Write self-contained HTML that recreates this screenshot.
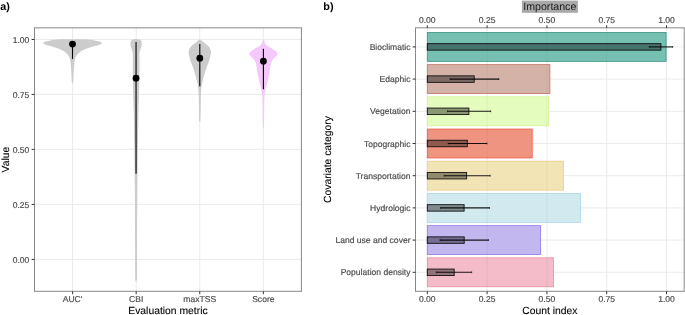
<!DOCTYPE html><html><head><meta charset="utf-8"><style>html,body{margin:0;padding:0;background:#fff;width:685px;height:315px;overflow:hidden}svg{display:block;will-change:transform}text{font-family:"Liberation Sans",sans-serif;text-rendering:geometricPrecision}.tk{fill:#4d4d4d;stroke:#4d4d4d;stroke-width:0.18px}.tt{fill:#000;stroke:#000;stroke-width:0.1px}</style></head><body>
<svg width="685" height="315" viewBox="0 0 685 315">
<rect width="685" height="315" fill="#fff"/>
<line x1="34.5" y1="39.5" x2="301.4" y2="39.5" stroke="#ebebeb" stroke-width="1"/>
<line x1="34.5" y1="94.45" x2="301.4" y2="94.45" stroke="#ebebeb" stroke-width="1"/>
<line x1="34.5" y1="149.4" x2="301.4" y2="149.4" stroke="#ebebeb" stroke-width="1"/>
<line x1="34.5" y1="204.4" x2="301.4" y2="204.4" stroke="#ebebeb" stroke-width="1"/>
<line x1="34.5" y1="259.4" x2="301.4" y2="259.4" stroke="#ebebeb" stroke-width="1"/>
<line x1="72.6" y1="27.85" x2="72.6" y2="291.3" stroke="#ebebeb" stroke-width="1"/>
<line x1="136.2" y1="27.85" x2="136.2" y2="291.3" stroke="#ebebeb" stroke-width="1"/>
<line x1="199.75" y1="27.85" x2="199.75" y2="291.3" stroke="#ebebeb" stroke-width="1"/>
<line x1="263.35" y1="27.85" x2="263.35" y2="291.3" stroke="#ebebeb" stroke-width="1"/>
<path d="M72.50,39.20 C74.50,39.21 81.67,39.17 84.50,39.25 C87.33,39.33 87.83,39.51 89.50,39.70 C91.17,39.89 93.00,40.15 94.50,40.40 C96.00,40.65 97.43,40.92 98.50,41.20 C99.57,41.48 100.35,41.80 100.90,42.10 C101.45,42.40 101.80,42.70 101.80,43.00 C101.80,43.30 101.45,43.57 100.90,43.90 C100.35,44.23 99.93,44.52 98.50,45.00 C97.07,45.48 94.38,46.17 92.30,46.80 C90.22,47.43 87.88,48.07 86.00,48.80 C84.12,49.53 82.37,50.32 81.00,51.20 C79.63,52.08 78.60,53.30 77.80,54.10 C77.00,54.90 76.63,55.27 76.20,56.00 C75.77,56.73 75.50,57.38 75.20,58.50 C74.90,59.62 74.63,60.78 74.40,62.70 C74.17,64.62 73.95,67.78 73.80,70.00 C73.65,72.22 73.60,74.00 73.50,76.00 C73.40,78.00 73.32,80.75 73.20,82.00 C73.08,83.25 72.92,83.23 72.80,83.50 C72.68,83.77 72.55,83.58 72.50,83.60 L72.50,83.60 C72.45,83.58 72.32,83.77 72.20,83.50 C72.08,83.23 71.92,83.25 71.80,82.00 C71.68,80.75 71.60,78.00 71.50,76.00 C71.40,74.00 71.35,72.22 71.20,70.00 C71.05,67.78 70.83,64.62 70.60,62.70 C70.37,60.78 70.10,59.62 69.80,58.50 C69.50,57.38 69.23,56.73 68.80,56.00 C68.37,55.27 68.00,54.90 67.20,54.10 C66.40,53.30 65.37,52.08 64.00,51.20 C62.63,50.32 60.88,49.53 59.00,48.80 C57.12,48.07 54.78,47.43 52.70,46.80 C50.62,46.17 47.93,45.48 46.50,45.00 C45.07,44.52 44.65,44.23 44.10,43.90 C43.55,43.57 43.20,43.30 43.20,43.00 C43.20,42.70 43.55,42.40 44.10,42.10 C44.65,41.80 45.43,41.48 46.50,41.20 C47.57,40.92 49.00,40.65 50.50,40.40 C52.00,40.15 53.83,39.89 55.50,39.70 C57.17,39.51 57.67,39.33 60.50,39.25 C63.33,39.17 70.50,39.21 72.50,39.20 Z" fill="#cccccc"/>
<path d="M136.10,38.90 C136.52,38.95 137.88,39.02 138.60,39.20 C139.32,39.38 139.93,39.67 140.40,40.00 C140.87,40.33 141.18,40.70 141.40,41.20 C141.62,41.70 141.67,42.28 141.70,43.00 C141.73,43.72 141.70,44.75 141.60,45.50 C141.50,46.25 141.30,46.87 141.10,47.50 C140.90,48.13 140.62,48.55 140.40,49.30 C140.18,50.05 139.97,51.05 139.80,52.00 C139.63,52.95 139.47,52.67 139.40,55.00 C139.33,57.33 139.42,61.83 139.40,66.00 C139.38,70.17 139.37,75.17 139.30,80.00 C139.23,84.83 139.13,90.00 139.00,95.00 C138.87,100.00 138.67,102.50 138.50,110.00 C138.33,117.50 138.17,129.17 138.00,140.00 C137.83,150.83 137.62,164.17 137.50,175.00 C137.38,185.83 137.32,192.50 137.25,205.00 C137.18,217.50 137.10,237.58 137.05,250.00 C137.00,262.42 137.11,274.57 136.95,279.50 C136.79,284.43 136.24,279.58 136.10,279.60 L136.10,279.60 C135.96,279.58 135.41,284.43 135.25,279.50 C135.09,274.57 135.20,262.42 135.15,250.00 C135.10,237.58 135.02,217.50 134.95,205.00 C134.88,192.50 134.82,185.83 134.70,175.00 C134.57,164.17 134.37,150.83 134.20,140.00 C134.03,129.17 133.87,117.50 133.70,110.00 C133.53,102.50 133.33,100.00 133.20,95.00 C133.07,90.00 132.97,84.83 132.90,80.00 C132.83,75.17 132.82,70.17 132.80,66.00 C132.78,61.83 132.87,57.33 132.80,55.00 C132.73,52.67 132.57,52.95 132.40,52.00 C132.23,51.05 132.02,50.05 131.80,49.30 C131.58,48.55 131.30,48.13 131.10,47.50 C130.90,46.87 130.70,46.25 130.60,45.50 C130.50,44.75 130.47,43.72 130.50,43.00 C130.53,42.28 130.58,41.70 130.80,41.20 C131.02,40.70 131.33,40.33 131.80,40.00 C132.27,39.67 132.88,39.38 133.60,39.20 C134.32,39.02 135.68,38.95 136.10,38.90 Z" fill="#cccccc"/>
<path d="M199.80,39.20 C200.07,39.42 200.68,39.92 201.40,40.50 C202.12,41.08 203.05,41.87 204.10,42.70 C205.15,43.53 206.72,44.55 207.70,45.50 C208.68,46.45 209.43,47.28 210.00,48.40 C210.57,49.52 211.05,50.93 211.10,52.20 C211.15,53.47 210.58,54.70 210.30,56.00 C210.02,57.30 209.83,58.57 209.40,60.00 C208.97,61.43 208.17,63.33 207.70,64.60 C207.23,65.87 207.20,65.83 206.60,67.60 C206.00,69.37 204.83,72.65 204.10,75.20 C203.37,77.75 202.67,80.67 202.20,82.90 C201.73,85.13 201.51,86.58 201.30,88.60 C201.09,90.62 201.04,92.43 200.95,95.00 C200.86,97.57 200.81,100.67 200.75,104.00 C200.69,107.33 200.67,112.17 200.60,115.00 C200.53,117.83 200.48,119.97 200.35,121.00 C200.22,122.03 199.89,121.17 199.80,121.20 L199.80,121.20 C199.71,121.17 199.38,122.03 199.25,121.00 C199.12,119.97 199.07,117.83 199.00,115.00 C198.93,112.17 198.91,107.33 198.85,104.00 C198.79,100.67 198.74,97.57 198.65,95.00 C198.56,92.43 198.51,90.62 198.30,88.60 C198.09,86.58 197.87,85.13 197.40,82.90 C196.93,80.67 196.23,77.75 195.50,75.20 C194.77,72.65 193.60,69.37 193.00,67.60 C192.40,65.83 192.37,65.87 191.90,64.60 C191.43,63.33 190.63,61.43 190.20,60.00 C189.77,58.57 189.58,57.30 189.30,56.00 C189.02,54.70 188.45,53.47 188.50,52.20 C188.55,50.93 189.03,49.52 189.60,48.40 C190.17,47.28 190.92,46.45 191.90,45.50 C192.88,44.55 194.45,43.53 195.50,42.70 C196.55,41.87 197.48,41.08 198.20,40.50 C198.92,39.92 199.53,39.42 199.80,39.20 Z" fill="#cccccc"/>
<path d="M263.40,39.20 C263.55,39.50 263.98,40.23 264.30,41.00 C264.62,41.77 264.87,43.05 265.30,43.80 C265.73,44.55 266.25,44.95 266.90,45.50 C267.55,46.05 268.33,46.55 269.20,47.10 C270.07,47.65 271.17,48.25 272.10,48.80 C273.03,49.35 274.02,49.83 274.80,50.40 C275.58,50.97 276.33,51.63 276.80,52.20 C277.27,52.77 277.60,53.25 277.60,53.80 C277.60,54.35 277.18,54.95 276.80,55.50 C276.42,56.05 276.05,56.28 275.30,57.10 C274.55,57.92 272.98,59.48 272.30,60.40 C271.62,61.32 271.48,61.85 271.20,62.60 C270.92,63.35 270.83,63.60 270.60,64.90 C270.37,66.20 270.07,68.73 269.80,70.40 C269.53,72.07 269.30,73.38 269.00,74.90 C268.70,76.42 268.33,78.02 268.00,79.50 C267.67,80.98 267.33,82.47 267.00,83.80 C266.67,85.13 266.28,86.40 266.00,87.50 C265.72,88.60 265.54,89.17 265.30,90.40 C265.06,91.63 264.72,92.47 264.55,94.90 C264.37,97.33 264.32,100.82 264.25,105.00 C264.18,109.18 264.17,116.20 264.10,120.00 C264.03,123.80 263.97,126.47 263.85,127.80 C263.73,129.13 263.47,127.97 263.40,128.00 L263.40,128.00 C263.32,127.97 263.07,129.13 262.95,127.80 C262.83,126.47 262.77,123.80 262.70,120.00 C262.63,116.20 262.62,109.18 262.55,105.00 C262.47,100.82 262.43,97.33 262.25,94.90 C262.07,92.47 261.74,91.63 261.50,90.40 C261.26,89.17 261.08,88.60 260.80,87.50 C260.52,86.40 260.13,85.13 259.80,83.80 C259.47,82.47 259.13,80.98 258.80,79.50 C258.47,78.02 258.10,76.42 257.80,74.90 C257.50,73.38 257.27,72.07 257.00,70.40 C256.73,68.73 256.43,66.20 256.20,64.90 C255.97,63.60 255.88,63.35 255.60,62.60 C255.32,61.85 255.18,61.32 254.50,60.40 C253.82,59.48 252.25,57.92 251.50,57.10 C250.75,56.28 250.38,56.05 250.00,55.50 C249.62,54.95 249.20,54.35 249.20,53.80 C249.20,53.25 249.53,52.77 250.00,52.20 C250.47,51.63 251.22,50.97 252.00,50.40 C252.78,49.83 253.77,49.35 254.70,48.80 C255.63,48.25 256.73,47.65 257.60,47.10 C258.47,46.55 259.25,46.05 259.90,45.50 C260.55,44.95 261.07,44.55 261.50,43.80 C261.93,43.05 262.18,41.77 262.50,41.00 C262.82,40.23 263.25,39.50 263.40,39.20 Z" fill="#f4c8fb"/>
<line x1="72.5" y1="41.0" x2="72.5" y2="58.9" stroke="#000" stroke-width="1.1"/>
<circle cx="72.5" cy="44.1" r="3.4" fill="#000"/>
<line x1="136.05" y1="41.9" x2="136.05" y2="173.8" stroke="#000" stroke-width="1.1"/>
<circle cx="136.05" cy="78.2" r="3.4" fill="#000"/>
<line x1="199.8" y1="44.1" x2="199.8" y2="86.3" stroke="#000" stroke-width="1.1"/>
<circle cx="199.8" cy="58.2" r="3.4" fill="#000"/>
<line x1="263.4" y1="48.8" x2="263.4" y2="89.3" stroke="#000" stroke-width="1.1"/>
<circle cx="263.4" cy="61.2" r="3.4" fill="#000"/>
<rect x="34.5" y="27.85" width="266.90" height="263.45" fill="none" stroke="#878787" stroke-width="1.0"/>
<line x1="31.6" y1="39.5" x2="34.5" y2="39.5" stroke="#333333" stroke-width="1"/>
<text x="29.3" y="42.80" class="tk" font-size="8.55" text-anchor="end">1.00</text>
<line x1="31.6" y1="94.45" x2="34.5" y2="94.45" stroke="#333333" stroke-width="1"/>
<text x="29.3" y="97.75" class="tk" font-size="8.55" text-anchor="end">0.75</text>
<line x1="31.6" y1="149.4" x2="34.5" y2="149.4" stroke="#333333" stroke-width="1"/>
<text x="29.3" y="152.70" class="tk" font-size="8.55" text-anchor="end">0.50</text>
<line x1="31.6" y1="204.4" x2="34.5" y2="204.4" stroke="#333333" stroke-width="1"/>
<text x="29.3" y="207.70" class="tk" font-size="8.55" text-anchor="end">0.25</text>
<line x1="31.6" y1="259.4" x2="34.5" y2="259.4" stroke="#333333" stroke-width="1"/>
<text x="29.3" y="262.70" class="tk" font-size="8.55" text-anchor="end">0.00</text>
<line x1="72.6" y1="291.3" x2="72.6" y2="294.2" stroke="#333333" stroke-width="1"/>
<text x="72.6" y="302.1" class="tk" font-size="8.55" text-anchor="middle">AUC'</text>
<line x1="136.2" y1="291.3" x2="136.2" y2="294.2" stroke="#333333" stroke-width="1"/>
<text x="136.2" y="302.1" class="tk" font-size="8.55" text-anchor="middle">CBI</text>
<line x1="199.75" y1="291.3" x2="199.75" y2="294.2" stroke="#333333" stroke-width="1"/>
<text x="199.75" y="302.1" class="tk" font-size="8.55" text-anchor="middle">maxTSS</text>
<line x1="263.35" y1="291.3" x2="263.35" y2="294.2" stroke="#333333" stroke-width="1"/>
<text x="263.35" y="302.1" class="tk" font-size="8.55" text-anchor="middle">Score</text>
<text x="167.95" y="314.0" class="tt" font-size="10.35" text-anchor="middle">Evaluation metric</text>
<text transform="translate(8.6,159.58) rotate(-90)" class="tt" font-size="10.35" text-anchor="middle">Value</text>
<text x="0.2" y="10.2" font-size="10.8" font-weight="bold" fill="#000">a)</text>
<line x1="427.30" y1="27.85" x2="427.30" y2="291.3" stroke="#ebebeb" stroke-width="1"/>
<line x1="487.10" y1="27.85" x2="487.10" y2="291.3" stroke="#ebebeb" stroke-width="1"/>
<line x1="546.90" y1="27.85" x2="546.90" y2="291.3" stroke="#ebebeb" stroke-width="1"/>
<line x1="606.70" y1="27.85" x2="606.70" y2="291.3" stroke="#ebebeb" stroke-width="1"/>
<line x1="666.50" y1="27.85" x2="666.50" y2="291.3" stroke="#ebebeb" stroke-width="1"/>
<line x1="415.5" y1="46.90" x2="684.2" y2="46.90" stroke="#ebebeb" stroke-width="1"/>
<line x1="415.5" y1="79.10" x2="684.2" y2="79.10" stroke="#ebebeb" stroke-width="1"/>
<line x1="415.5" y1="111.30" x2="684.2" y2="111.30" stroke="#ebebeb" stroke-width="1"/>
<line x1="415.5" y1="143.50" x2="684.2" y2="143.50" stroke="#ebebeb" stroke-width="1"/>
<line x1="415.5" y1="175.70" x2="684.2" y2="175.70" stroke="#ebebeb" stroke-width="1"/>
<line x1="415.5" y1="207.90" x2="684.2" y2="207.90" stroke="#ebebeb" stroke-width="1"/>
<line x1="415.5" y1="240.10" x2="684.2" y2="240.10" stroke="#ebebeb" stroke-width="1"/>
<line x1="415.5" y1="272.30" x2="684.2" y2="272.30" stroke="#ebebeb" stroke-width="1"/>
<rect x="427.3" y="32.45" width="238.80" height="28.9" fill="#76c0b2" stroke="#3a9383" stroke-width="0.8"/>
<rect x="427.3" y="64.65" width="122.60" height="28.9" fill="#d4b2a8" stroke="#bf7560" stroke-width="0.8"/>
<rect x="427.3" y="96.85" width="121.40" height="28.9" fill="#e4fcbe" stroke="#d2f48c" stroke-width="0.8"/>
<rect x="427.3" y="129.05" width="104.90" height="28.9" fill="#f09482" stroke="#ee5a40" stroke-width="0.8"/>
<rect x="427.3" y="161.25" width="136.10" height="28.9" fill="#f3e4b6" stroke="#edcc7e" stroke-width="0.8"/>
<rect x="427.3" y="193.45" width="153.30" height="28.9" fill="#d2e9f0" stroke="#a9d6ea" stroke-width="0.8"/>
<rect x="427.3" y="225.65" width="113.20" height="28.9" fill="#c3b7f0" stroke="#9274e8" stroke-width="0.8"/>
<rect x="427.3" y="257.85" width="126.10" height="28.9" fill="#f3bcc8" stroke="#ee8aa0" stroke-width="0.8"/>
<line x1="487.10" y1="32.45" x2="487.10" y2="61.35" stroke="#000" stroke-opacity="0.045" stroke-width="1"/>
<line x1="546.90" y1="32.45" x2="546.90" y2="61.35" stroke="#000" stroke-opacity="0.045" stroke-width="1"/>
<line x1="606.70" y1="32.45" x2="606.70" y2="61.35" stroke="#000" stroke-opacity="0.045" stroke-width="1"/>
<line x1="487.10" y1="64.65" x2="487.10" y2="93.55" stroke="#000" stroke-opacity="0.045" stroke-width="1"/>
<line x1="546.90" y1="64.65" x2="546.90" y2="93.55" stroke="#000" stroke-opacity="0.045" stroke-width="1"/>
<line x1="487.10" y1="96.85" x2="487.10" y2="125.75" stroke="#000" stroke-opacity="0.045" stroke-width="1"/>
<line x1="546.90" y1="96.85" x2="546.90" y2="125.75" stroke="#000" stroke-opacity="0.045" stroke-width="1"/>
<line x1="487.10" y1="129.05" x2="487.10" y2="157.95" stroke="#000" stroke-opacity="0.045" stroke-width="1"/>
<line x1="487.10" y1="161.25" x2="487.10" y2="190.15" stroke="#000" stroke-opacity="0.045" stroke-width="1"/>
<line x1="546.90" y1="161.25" x2="546.90" y2="190.15" stroke="#000" stroke-opacity="0.045" stroke-width="1"/>
<line x1="487.10" y1="193.45" x2="487.10" y2="222.35" stroke="#000" stroke-opacity="0.045" stroke-width="1"/>
<line x1="546.90" y1="193.45" x2="546.90" y2="222.35" stroke="#000" stroke-opacity="0.045" stroke-width="1"/>
<line x1="487.10" y1="225.65" x2="487.10" y2="254.55" stroke="#000" stroke-opacity="0.045" stroke-width="1"/>
<line x1="487.10" y1="257.85" x2="487.10" y2="286.75" stroke="#000" stroke-opacity="0.045" stroke-width="1"/>
<line x1="546.90" y1="257.85" x2="546.90" y2="286.75" stroke="#000" stroke-opacity="0.045" stroke-width="1"/>
<rect x="427.3" y="43.65" width="233.60" height="6.5" fill="#000" fill-opacity="0.4" stroke="#000" stroke-opacity="0.85" stroke-width="0.95"/>
<line x1="649.3" y1="46.90" x2="672.7" y2="46.90" stroke="#000" stroke-opacity="0.9" stroke-width="1.1"/>
<line x1="649.3" y1="46.00" x2="649.3" y2="47.80" stroke="#000" stroke-opacity="0.75" stroke-width="0.9"/>
<line x1="672.7" y1="46.00" x2="672.7" y2="47.80" stroke="#000" stroke-opacity="0.75" stroke-width="0.9"/>
<rect x="427.3" y="75.85" width="46.90" height="6.5" fill="#000" fill-opacity="0.4" stroke="#000" stroke-opacity="0.85" stroke-width="0.95"/>
<line x1="450.2" y1="79.10" x2="498.8" y2="79.10" stroke="#000" stroke-opacity="0.9" stroke-width="1.1"/>
<line x1="450.2" y1="78.20" x2="450.2" y2="80.00" stroke="#000" stroke-opacity="0.75" stroke-width="0.9"/>
<line x1="498.8" y1="78.20" x2="498.8" y2="80.00" stroke="#000" stroke-opacity="0.75" stroke-width="0.9"/>
<rect x="427.3" y="108.05" width="41.60" height="6.5" fill="#000" fill-opacity="0.4" stroke="#000" stroke-opacity="0.85" stroke-width="0.95"/>
<line x1="447.5" y1="111.30" x2="490.7" y2="111.30" stroke="#000" stroke-opacity="0.9" stroke-width="1.1"/>
<line x1="447.5" y1="110.40" x2="447.5" y2="112.20" stroke="#000" stroke-opacity="0.75" stroke-width="0.9"/>
<line x1="490.7" y1="110.40" x2="490.7" y2="112.20" stroke="#000" stroke-opacity="0.75" stroke-width="0.9"/>
<rect x="427.3" y="140.25" width="40.00" height="6.5" fill="#000" fill-opacity="0.4" stroke="#000" stroke-opacity="0.85" stroke-width="0.95"/>
<line x1="448.2" y1="143.50" x2="487.0" y2="143.50" stroke="#000" stroke-opacity="0.9" stroke-width="1.1"/>
<line x1="448.2" y1="142.60" x2="448.2" y2="144.40" stroke="#000" stroke-opacity="0.75" stroke-width="0.9"/>
<line x1="487.0" y1="142.60" x2="487.0" y2="144.40" stroke="#000" stroke-opacity="0.75" stroke-width="0.9"/>
<rect x="427.3" y="172.45" width="39.30" height="6.5" fill="#000" fill-opacity="0.4" stroke="#000" stroke-opacity="0.85" stroke-width="0.95"/>
<line x1="444.2" y1="175.70" x2="490.2" y2="175.70" stroke="#000" stroke-opacity="0.9" stroke-width="1.1"/>
<line x1="444.2" y1="174.80" x2="444.2" y2="176.60" stroke="#000" stroke-opacity="0.75" stroke-width="0.9"/>
<line x1="490.2" y1="174.80" x2="490.2" y2="176.60" stroke="#000" stroke-opacity="0.75" stroke-width="0.9"/>
<rect x="427.3" y="204.65" width="36.80" height="6.5" fill="#000" fill-opacity="0.4" stroke="#000" stroke-opacity="0.85" stroke-width="0.95"/>
<line x1="440.4" y1="207.90" x2="489.5" y2="207.90" stroke="#000" stroke-opacity="0.9" stroke-width="1.1"/>
<line x1="440.4" y1="207.00" x2="440.4" y2="208.80" stroke="#000" stroke-opacity="0.75" stroke-width="0.9"/>
<line x1="489.5" y1="207.00" x2="489.5" y2="208.80" stroke="#000" stroke-opacity="0.75" stroke-width="0.9"/>
<rect x="427.3" y="236.85" width="36.90" height="6.5" fill="#000" fill-opacity="0.4" stroke="#000" stroke-opacity="0.85" stroke-width="0.95"/>
<line x1="440.0" y1="240.10" x2="488.4" y2="240.10" stroke="#000" stroke-opacity="0.9" stroke-width="1.1"/>
<line x1="440.0" y1="239.20" x2="440.0" y2="241.00" stroke="#000" stroke-opacity="0.75" stroke-width="0.9"/>
<line x1="488.4" y1="239.20" x2="488.4" y2="241.00" stroke="#000" stroke-opacity="0.75" stroke-width="0.9"/>
<rect x="427.3" y="269.05" width="26.90" height="6.5" fill="#000" fill-opacity="0.4" stroke="#000" stroke-opacity="0.85" stroke-width="0.95"/>
<line x1="436.3" y1="272.30" x2="471.7" y2="272.30" stroke="#000" stroke-opacity="0.9" stroke-width="1.1"/>
<line x1="436.3" y1="271.40" x2="436.3" y2="273.20" stroke="#000" stroke-opacity="0.75" stroke-width="0.9"/>
<line x1="471.7" y1="271.40" x2="471.7" y2="273.20" stroke="#000" stroke-opacity="0.75" stroke-width="0.9"/>
<rect x="415.5" y="27.85" width="268.70" height="263.45" fill="none" stroke="#878787" stroke-width="1.0"/>
<line x1="427.30" y1="25.35" x2="427.30" y2="27.85" stroke="#333333" stroke-width="1"/>
<text x="427.30" y="22.6" class="tk" font-size="8.55" text-anchor="middle">0.00</text>
<line x1="427.30" y1="291.3" x2="427.30" y2="294.2" stroke="#333333" stroke-width="1"/>
<text x="427.30" y="302.1" class="tk" font-size="8.55" text-anchor="middle">0.00</text>
<line x1="487.10" y1="25.35" x2="487.10" y2="27.85" stroke="#333333" stroke-width="1"/>
<text x="487.10" y="22.6" class="tk" font-size="8.55" text-anchor="middle">0.25</text>
<line x1="487.10" y1="291.3" x2="487.10" y2="294.2" stroke="#333333" stroke-width="1"/>
<text x="487.10" y="302.1" class="tk" font-size="8.55" text-anchor="middle">0.25</text>
<line x1="546.90" y1="25.35" x2="546.90" y2="27.85" stroke="#333333" stroke-width="1"/>
<text x="546.90" y="22.6" class="tk" font-size="8.55" text-anchor="middle">0.50</text>
<line x1="546.90" y1="291.3" x2="546.90" y2="294.2" stroke="#333333" stroke-width="1"/>
<text x="546.90" y="302.1" class="tk" font-size="8.55" text-anchor="middle">0.50</text>
<line x1="606.70" y1="25.35" x2="606.70" y2="27.85" stroke="#333333" stroke-width="1"/>
<text x="606.70" y="22.6" class="tk" font-size="8.55" text-anchor="middle">0.75</text>
<line x1="606.70" y1="291.3" x2="606.70" y2="294.2" stroke="#333333" stroke-width="1"/>
<text x="606.70" y="302.1" class="tk" font-size="8.55" text-anchor="middle">0.75</text>
<line x1="666.50" y1="25.35" x2="666.50" y2="27.85" stroke="#333333" stroke-width="1"/>
<text x="666.50" y="22.6" class="tk" font-size="8.55" text-anchor="middle">1.00</text>
<line x1="666.50" y1="291.3" x2="666.50" y2="294.2" stroke="#333333" stroke-width="1"/>
<text x="666.50" y="302.1" class="tk" font-size="8.55" text-anchor="middle">1.00</text>
<line x1="412.6" y1="46.90" x2="415.5" y2="46.90" stroke="#333333" stroke-width="1"/>
<text x="410.5" y="49.90" class="tk" font-size="8.55" text-anchor="end">Bioclimatic</text>
<line x1="412.6" y1="79.10" x2="415.5" y2="79.10" stroke="#333333" stroke-width="1"/>
<text x="410.5" y="82.10" class="tk" font-size="8.55" text-anchor="end">Edaphic</text>
<line x1="412.6" y1="111.30" x2="415.5" y2="111.30" stroke="#333333" stroke-width="1"/>
<text x="410.5" y="114.30" class="tk" font-size="8.55" text-anchor="end">Vegetation</text>
<line x1="412.6" y1="143.50" x2="415.5" y2="143.50" stroke="#333333" stroke-width="1"/>
<text x="410.5" y="146.50" class="tk" font-size="8.55" text-anchor="end">Topographic</text>
<line x1="412.6" y1="175.70" x2="415.5" y2="175.70" stroke="#333333" stroke-width="1"/>
<text x="410.5" y="178.70" class="tk" font-size="8.55" text-anchor="end">Transportation</text>
<line x1="412.6" y1="207.90" x2="415.5" y2="207.90" stroke="#333333" stroke-width="1"/>
<text x="410.5" y="210.90" class="tk" font-size="8.55" text-anchor="end">Hydrologic</text>
<line x1="412.6" y1="240.10" x2="415.5" y2="240.10" stroke="#333333" stroke-width="1"/>
<text x="410.5" y="243.10" class="tk" font-size="8.55" text-anchor="end">Land use and cover</text>
<line x1="412.6" y1="272.30" x2="415.5" y2="272.30" stroke="#333333" stroke-width="1"/>
<text x="410.5" y="275.30" class="tk" font-size="8.55" text-anchor="end">Population density</text>
<text x="549.85" y="314.0" class="tt" font-size="10.35" text-anchor="middle">Count index</text>
<text transform="translate(330.5,159.58) rotate(-90)" class="tt" font-size="10.35" text-anchor="middle">Covariate category</text>
<text x="323.3" y="10.2" font-size="10.8" font-weight="bold" fill="#000">b)</text>
<rect x="521.9" y="0.6" width="56.0" height="12.2" fill="#a9a9a9"/>
<text x="549.8" y="10.0" font-size="10.6" fill="#1a1a1a" text-anchor="middle">Importance</text>
</svg></body></html>
